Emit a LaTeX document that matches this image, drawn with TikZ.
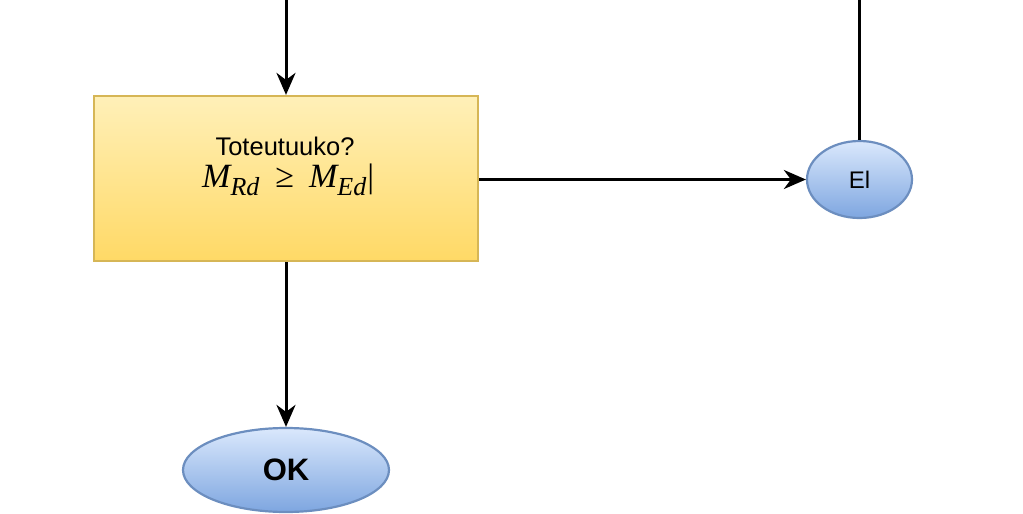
\documentclass[tikz,border=0pt]{standalone}
\usepackage{fontspec}
\setmainfont{Liberation Serif}
\setsansfont{Liberation Sans}
\usetikzlibrary{arrows.meta,shapes.geometric}
\definecolor{boxtop}{HTML}{FFF0B8}
\definecolor{boxbot}{HTML}{FFD966}
\definecolor{boxline}{HTML}{D6B656}
\definecolor{elltop}{HTML}{DAE8FC}
\definecolor{ellbot}{HTML}{7EA6E0}
\definecolor{ellline}{HTML}{6C8EBF}
\tikzset{
  flow/.style={line width=3pt,-{Stealth[length=22pt,width=19pt,inset=7pt]}},
  plainline/.style={line width=3pt},
  decbox/.style={rectangle,draw=boxline,line width=2.2pt,top color=boxtop,bottom color=boxbot,minimum width=384pt,minimum height=165pt,inner sep=0pt},
  term/.style={ellipse,draw=ellline,line width=2.2pt,top color=elltop,bottom color=ellbot,inner sep=0pt,font=\sffamily}
}
\newcommand{\subtxt}[1]{\raisebox{-8pt}{\fontsize{26}{26}\selectfont #1}}
\begin{document}
\begin{tikzpicture}[x=1pt,y=-1pt]
\useasboundingbox (0,0) rectangle (1023,514);
\node[decbox] (dec) at (286,178.5) {};
\node[font=\sffamily\fontsize{25.5}{25.5}\selectfont,anchor=base,inner sep=0pt] (q) at (285,155) {Toteutuuko?};
\node[font=\fontsize{34}{34}\selectfont,anchor=base west,inner sep=0pt] (f) at (202,187)
  {\itshape M\subtxt{Rd}\hspace{16pt}\upshape ≥\hspace{15pt}\itshape M\subtxt{Ed}\upshape\hspace{1pt}|};
\node[term,minimum width=206pt,minimum height=84pt,font=\sffamily\bfseries\fontsize{31}{31}\selectfont] (ok) at (286,470) {OK};
\node[term,minimum width=105pt,minimum height=77pt,font=\sffamily\fontsize{24}{24}\selectfont] (ei) at (859.5,179.5) {El};
\coordinate (topin) at (286,0);
\coordinate (topout) at (859.5,0);
\draw[flow] (topin) -- (dec.north);
\draw[flow] (dec.south) -- (ok.north);
\draw[flow] (dec.east |- ei.west) -- (ei.west);
\draw[plainline] (ei.north) -- (topout);
\end{tikzpicture}
\end{document}
